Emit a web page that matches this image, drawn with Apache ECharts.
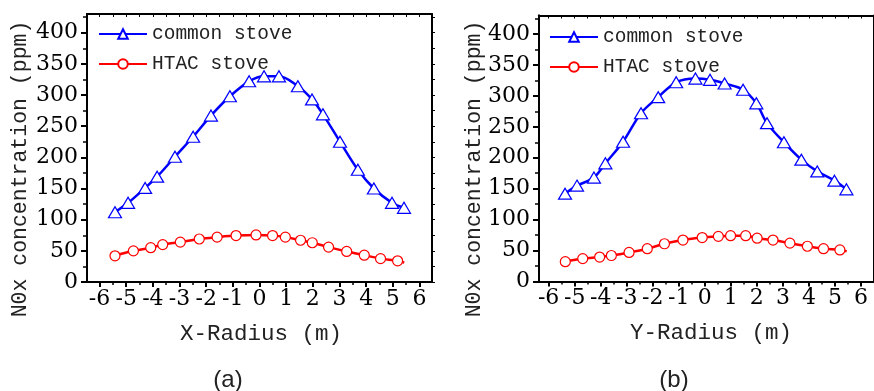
<!DOCTYPE html>
<html>
<head>
<meta charset="UTF-8">
<title>NOx concentration profiles</title>
<style>
  body { margin: 0; background: #fff; }
  #chart { width: 874px; height: 391px; }
</style>
<script src="https://cdn.jsdelivr.net/npm/echarts@6/dist/echarts.min.js"></script>
</head>
<body>
<div id="chart"></div>
<script>
// (a) along X-radius
const commonXa = [-5.42, -4.93, -4.29, -3.84, -3.17, -2.49, -1.82, -1.11, -0.39, 0.17, 0.73, 1.44, 1.97, 2.38, 3.02, 3.69, 4.29, 4.97, 5.42];
const commonYa = [112, 127, 151, 169, 201, 233, 267, 298, 322, 330, 330, 314, 293, 269, 225, 180, 150, 127, 119];
const htacXa = [-5.42, -4.73, -4.08, -3.63, -2.97, -2.26, -1.59, -0.88, -0.13, 0.49, 0.97, 1.54, 1.98, 2.59, 3.27, 3.93, 4.54, 5.18, 5.43];
const htacYa = [42, 50, 55, 60, 64, 69, 72, 74.5, 75.5, 74.5, 72, 67, 63, 56, 49, 43, 37.5, 34, 31];

// (b) along Y-radius
const commonXb = [-5.37, -4.91, -4.26, -3.82, -3.14, -2.45, -1.79, -1.10, -0.36, 0.20, 0.76, 1.47, 1.98, 2.39, 3.04, 3.71, 4.32, 4.98, 5.44];
const commonYb = [142, 155, 168, 191, 226, 272, 298, 322, 328, 326, 320, 310, 288, 256, 225, 197, 178, 163, 149];
const htacXb = [-5.36, -4.69, -4.04, -3.59, -2.91, -2.21, -1.55, -0.84, -0.10, 0.52, 0.99, 1.57, 2.01, 2.62, 3.27, 3.94, 4.56, 5.19, 5.45];
const htacYb = [32, 37, 39.5, 42, 47, 53, 61, 67, 71, 73, 74, 74, 70, 67, 62, 57, 53, 51, 49];

// tick labels
const xMajor = [-6, -5, -4, -3, -2, -1, 0, 1, 2, 3, 4, 5, 6];
const xMinor = [-5.5, -4.5, -3.5, -2.5, -1.5, -0.5, 0.5, 1.5, 2.5, 3.5, 4.5, 5.5];
const yMajor = [0, 50, 100, 150, 200, 250, 300, 350, 400];
const yMinor = [25, 75, 125, 175, 225, 275, 325, 375, 425];

const chart = echarts.init(document.getElementById('chart'));

const BLUE = '#0000ff';
const RED = '#ff0000';
const numFont = 'DejaVu Serif';
const txtFont = 'Liberation Mono';

const grids = [
  { left: 87, top: 14, width: 345, height: 268, xMin: -6.47, xMax: 6.47 },
  { left: 539, top: 15.5, width: 343, height: 266, xMin: -6.37, xMax: 6.5 }
];

function pairs(xs, ys) {
  return xs.map((x, i) => [x, ys[i]]);
}

// the last red point has no marker in the original
function htacData(xs, ys) {
  return pairs(xs, ys).map((p, i) => i === xs.length - 1 ? { value: p, symbol: 'none' } : p);
}

const xAxes = [];
const yAxes = [];
grids.forEach((g, gi) => {
  const line = { show: true, onZero: false, lineStyle: { color: '#000', width: 2 } };
  xAxes.push({
    gridIndex: gi, type: 'value', position: 'bottom', min: g.xMin, max: g.xMax,
    axisLine: line, splitLine: { show: false },
    axisTick: { customValues: xMajor, length: 5, lineStyle: { color: '#000', width: 2 } },
    axisLabel: { customValues: xMajor, color: '#000', fontFamily: numFont, fontSize: 22, margin: 6 }
  });
  xAxes.push({
    gridIndex: gi, type: 'value', position: 'bottom', min: g.xMin, max: g.xMax,
    axisLine: line, splitLine: { show: false },
    axisTick: { customValues: xMinor, length: 3, lineStyle: { color: '#000', width: 1.5 } },
    axisLabel: { show: false }
  });
  xAxes.push({
    gridIndex: gi, type: 'value', position: 'top', min: g.xMin, max: g.xMax,
    axisLine: line, splitLine: { show: false },
    axisTick: { customValues: xMajor.concat(xMinor), inside: true, length: 3, lineStyle: { color: '#000', width: 1 } },
    axisLabel: { show: false }
  });
  yAxes.push({
    gridIndex: gi, type: 'value', position: 'left', min: 0, max: 430,
    axisLine: line, splitLine: { show: false },
    axisTick: { customValues: yMajor, length: 6, lineStyle: { color: '#000', width: 2 } },
    axisLabel: { customValues: yMajor, color: '#000', fontFamily: numFont, fontSize: 22, margin: 9 }
  });
  yAxes.push({
    gridIndex: gi, type: 'value', position: 'left', min: 0, max: 430,
    axisLine: line, splitLine: { show: false },
    axisTick: { customValues: yMinor, length: 4, lineStyle: { color: '#000', width: 1.5 } },
    axisLabel: { show: false }
  });
  yAxes.push({
    gridIndex: gi, type: 'value', position: 'right', min: 0, max: 430,
    axisLine: line, splitLine: { show: false },
    axisTick: { customValues: yMajor.concat(yMinor), length: 3, lineStyle: { color: '#000', width: 1 } },
    axisLabel: { show: false }
  });
});

function commonSeries(gi, data) {
  return {
    name: 'common stove', type: 'line', xAxisIndex: gi * 3, yAxisIndex: gi * 3,
    data: data, smooth: 0.35,
    symbol: 'triangle', symbolSize: [13, 11],
    lineStyle: { color: BLUE, width: 2.5 },
    itemStyle: { color: '#fff', borderColor: BLUE, borderWidth: 1.2 },
    z: 3
  };
}

function htacSeries(gi, data) {
  return {
    name: 'HTAC stove', type: 'line', xAxisIndex: gi * 3, yAxisIndex: gi * 3,
    data: data, smooth: 0.35,
    symbol: 'circle', symbolSize: 10,
    lineStyle: { color: RED, width: 2.5 },
    itemStyle: { color: '#fff', borderColor: RED, borderWidth: 1.2 },
    z: 2
  };
}

function legendAt(left, top) {
  return {
    left: left, top: top, orient: 'vertical', padding: 0,
    itemWidth: 48, itemHeight: 12, itemGap: 10,
    data: ['common stove', 'HTAC stove'],
    textStyle: { fontFamily: txtFont, fontSize: 19.5, color: '#222', lineHeight: 18 }
  };
}

function label(x, y, text, size, font, rot) {
  return {
    type: 'text', x: x, y: y, rotation: rot || 0,
    style: {
      text: text, fontFamily: font, fontSize: size, fill: '#222',
      textAlign: 'center', textVerticalAlign: 'middle', align: 'center', verticalAlign: 'middle'
    }
  };
}

chart.setOption({
  animation: false,
  backgroundColor: '#fff',
  grid: grids.map(g => ({ left: g.left, top: g.top, width: g.width, height: g.height })),
  xAxis: xAxes,
  yAxis: yAxes,
  legend: [legendAt(98, 24), legendAt(549, 27)],
  series: [
    commonSeries(0, pairs(commonXa, commonYa)),
    htacSeries(0, htacData(htacXa, htacYa)),
    commonSeries(1, pairs(commonXb, commonYb)),
    htacSeries(1, htacData(htacXb, htacYb))
  ],
  graphic: [
    label(20, 169, 'N0x concentration (ppm)', 21.5, txtFont, Math.PI / 2),
    label(474, 169, 'N0x concentration (ppm)', 21.5, txtFont, Math.PI / 2),
    label(261, 334, 'X-Radius (m)', 22.5, txtFont),
    label(711, 333, 'Y-Radius (m)', 22.5, txtFont),
    label(228, 380, '(a)', 24, 'Liberation Sans'),
    label(674, 380, '(b)', 24, 'Liberation Sans')
  ]
});
</script>
</body>
</html>
